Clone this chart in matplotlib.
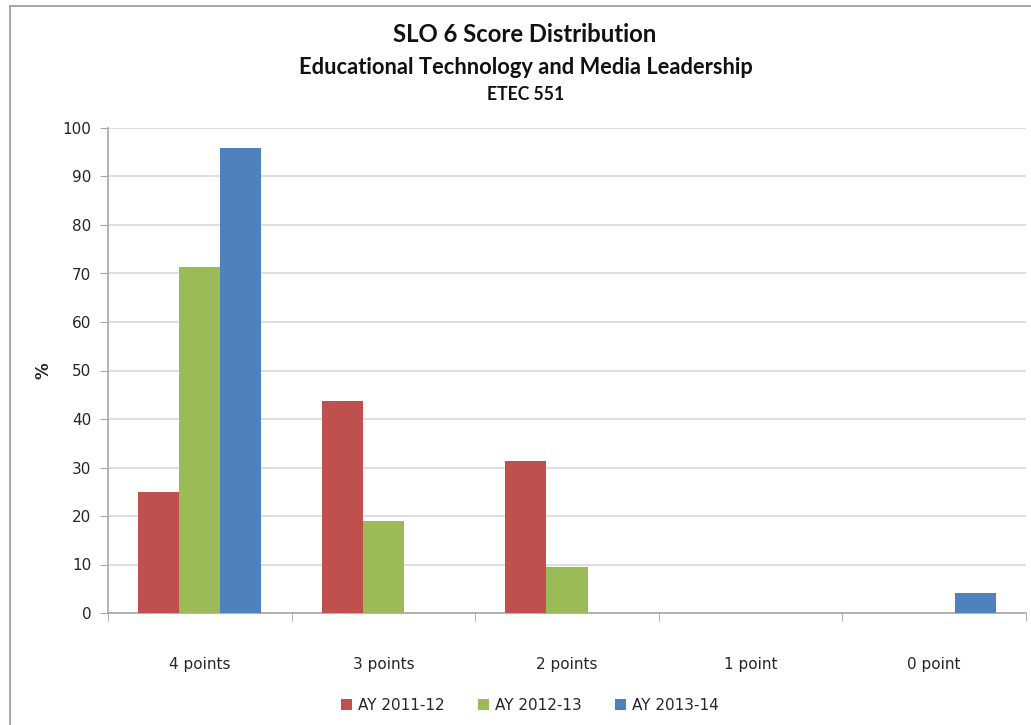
import matplotlib
matplotlib.use("Agg")
import matplotlib.pyplot as plt
import numpy as np
from matplotlib.patches import Rectangle

# Score categories and the share of students (%) per academic year
categories = ["4 points", "3 points", "2 points", "1 point", "0 point"]
ay_2011_12 = [25.0, 43.75, 31.25, 0, 0]
ay_2012_13 = [71.4, 19.0, 9.5, 0, 0]
ay_2013_14 = [95.8, 0, 0, 0, 4.2]
series_names = ["AY 2011-12", "AY 2012-13", "AY 2013-14"]
colors = ["#C0504D", "#9BBB59", "#4F81BD"]

fig = plt.figure(figsize=(10.31, 7.25), dpi=100)
ax = fig.add_axes([108 / 1031, 1 - 613 / 725, (1026 - 108) / 1031, (613 - 128) / 725])

# chart border (left and top edges visible)
fig.patches.append(Rectangle((10 / 1031, -0.01), 1, 1 - 6 / 725 + 0.01, transform=fig.transFigure,
                             fill=False, edgecolor="#A6A6A6", linewidth=1.4))

x = np.arange(len(categories))
w = 0.224
for i, (vals, name) in enumerate(zip([ay_2011_12, ay_2012_13, ay_2013_14], series_names)):
    ax.bar(x + (i - 1) * w, vals, width=w, color=colors[i], label=name, zorder=3)

ax.set_xlim(-0.5, len(categories) - 0.5)
ax.set_ylim(0, 100)
ax.set_yticks(range(0, 101, 10))
ax.yaxis.grid(True, color="#D9D9D9", linewidth=1.2, zorder=0)
ax.set_xticks(x)
ax.set_xticklabels(categories)
ax.set_xticks(np.arange(-0.5, len(categories), 1), minor=True)
ax.tick_params(axis="x", which="major", length=0, pad=32, labelsize=11, colors="#262626")
ax.tick_params(axis="x", which="minor", length=6, color="#A6A6A6")
ax.tick_params(axis="y", length=6, color="#A6A6A6", labelsize=11, labelcolor="#262626", pad=6)

for s in ["top", "right"]:
    ax.spines[s].set_visible(False)
for s in ["left", "bottom"]:
    ax.spines[s].set_color("#A6A6A6")
    ax.spines[s].set_linewidth(1.2)

ax.set_ylabel("%", fontsize=12, fontweight="bold", labelpad=7, color="#262626")

fig.text(525 / 1031, 1 - 35 / 725, "SLO 6 Score Distribution", ha="center", va="center",
         fontsize=17.2, fontweight="bold", family="Lato", color="#111111")
fig.text(526 / 1031, 1 - 67 / 725, "Educational Technology and Media Leadership", ha="center",
         va="center", fontsize=15.75, fontweight="bold", family="Lato", color="#111111")
fig.text(526 / 1031, 1 - 94 / 725, "ETEC 551", ha="center", va="center",
         fontsize=12.7, fontweight="bold", family="Lato", color="#111111")

fig.legend(loc="center", bbox_to_anchor=(530 / 1031, 1 - 705 / 725), ncol=3, frameon=False,
           fontsize=11, handlelength=0.7, handleheight=0.7, handletextpad=0.4, columnspacing=2.2,
           labelcolor="#262626")

fig.savefig("out.png", dpi=100)
